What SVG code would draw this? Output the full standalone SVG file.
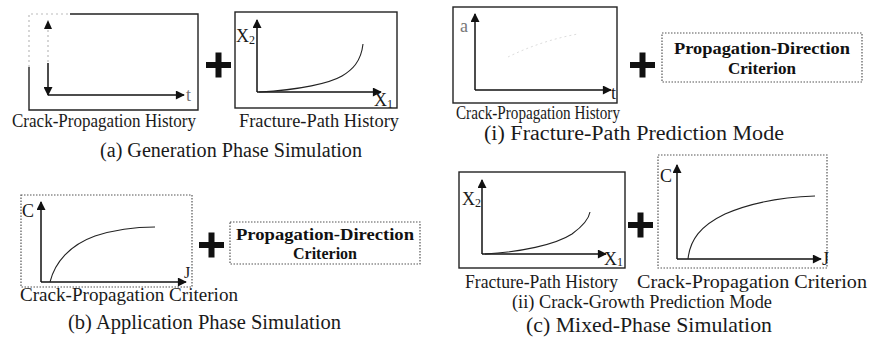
<svg xmlns="http://www.w3.org/2000/svg" width="870" height="345" viewBox="0 0 870 345">
<defs>
<marker id="ah" viewBox="0 0 10 10" refX="9" refY="5" markerWidth="12" markerHeight="9" markerUnits="userSpaceOnUse" orient="auto">
<path d="M0,0 L10,5 L0,10 Z" fill="#111"/>
</marker>
<style>
.box{fill:none;stroke:#222;stroke-width:1.4}
.dbox{fill:none;stroke:#555;stroke-width:1.2;stroke-dasharray:1.5 1.5}
.faint{fill:none;stroke:#bbb;stroke-width:1.2;stroke-dasharray:2 3}
.axis{fill:none;stroke:#111;stroke-width:1.5;marker-end:url(#ah)}
.curve{fill:none;stroke:#222;stroke-width:1.1}
.plus{fill:#111}
text{font-family:"Liberation Serif","Times New Roman",serif;fill:#1a1a1a}
.sub{font-size:18.5px}
.cap{font-size:20.5px}
.lab{font-size:18px}
.crit{font-size:17px;font-weight:bold;text-anchor:middle;fill:#111}
</style>
</defs>

<!-- (a) Generation Phase Simulation -->
<g id="a-crack-history">
<path class="box" d="M70,14 H198 V110 H29 V67"/>
<path class="faint" d="M29,67 V14 H70"/>
<path class="faint" d="M48,30 V63"/>
<path class="axis" d="M48,63 V95"/>
<path d="M48,20 L44,29 L52,29 Z" fill="#111"/>
<path class="axis" d="M48,95 H184"/>
<text x="186" y="101" class="lab" style="fill:#777">t</text>
<text x="12" y="127" class="sub" textLength="184" lengthAdjust="spacingAndGlyphs">Crack-Propagation History</text>
</g>
<g id="a-plus"><rect class="plus" x="206" y="62" width="25" height="6"/><rect class="plus" x="215.5" y="52.5" width="6" height="25"/></g>
<g id="a-fracture-history">
<rect class="box" x="235" y="12" width="162" height="96"/>
<path class="axis" d="M257,92 V20"/>
<path class="axis" d="M257,92 H381"/>
<path class="curve" d="M259,92 C300,90 330,83 342,76 C352,70 361,62 363,44"/>
<text x="236" y="42" class="lab">X<tspan font-size="12" dy="2">2</tspan></text>
<text x="374" y="106" class="lab">X<tspan font-size="12" dy="2">1</tspan></text>
<text x="239" y="127" class="sub" textLength="160" lengthAdjust="spacingAndGlyphs">Fracture-Path History</text>
</g>
<text id="a-caption" x="100" y="157" class="cap" textLength="262" lengthAdjust="spacingAndGlyphs">(a) Generation Phase Simulation</text>

<!-- (i) Fracture-Path Prediction Mode -->
<g id="i-crack-history">
<rect class="box" x="453" y="7" width="164" height="96"/>
<path class="axis" d="M475,90 V14"/>
<path class="axis" d="M475,90 H611"/>
<path d="M508,57 C530,46 555,38 578,34" fill="none" stroke="#ddd" stroke-width="1" stroke-dasharray="2 3"/>
<text x="460" y="32" class="lab" style="fill:#777">a</text>
<text x="611" y="99" class="lab">t</text>
<text x="456" y="119" class="sub" textLength="164" lengthAdjust="spacingAndGlyphs">Crack-Propagation History</text>
</g>
<g id="i-plus"><rect class="plus" x="630" y="62" width="25" height="6"/><rect class="plus" x="639.5" y="52.5" width="6" height="25"/></g>
<g id="i-direction-criterion">
<rect class="dbox" x="662" y="33" width="200" height="49"/>
<text x="762" y="54" class="crit" textLength="176" lengthAdjust="spacingAndGlyphs">Propagation-Direction</text>
<text x="762" y="74" class="crit">Criterion</text>
</g>
<text id="i-caption" x="484" y="140" class="cap" textLength="300" lengthAdjust="spacingAndGlyphs">(i) Fracture-Path Prediction Mode</text>

<!-- (b) Application Phase Simulation -->
<g id="b-crack-criterion">
<rect class="dbox" x="21" y="195" width="171" height="92"/>
<path class="axis" d="M41,282 V202"/>
<path class="axis" d="M41,282 H186"/>
<path class="curve" d="M50,282 C55,262 70,245 95,236 C120,228 140,227 155,227"/>
<text x="22" y="217" class="lab">C</text>
<text x="184" y="278" class="lab" style="font-size:16px">J</text>
<text x="20" y="301" class="sub" textLength="218" lengthAdjust="spacingAndGlyphs">Crack-Propagation Criterion</text>
</g>
<g id="b-plus"><rect class="plus" x="199" y="242" width="25" height="6"/><rect class="plus" x="208.5" y="232.5" width="6" height="25"/></g>
<g id="b-direction-criterion">
<rect class="dbox" x="230" y="222" width="190" height="42"/>
<text x="325" y="240" class="crit" style="font-size:16px" textLength="178" lengthAdjust="spacingAndGlyphs">Propagation-Direction</text>
<text x="325" y="259" class="crit" style="font-size:16px">Criterion</text>
</g>
<text id="b-caption" x="68" y="329" class="cap" textLength="273" lengthAdjust="spacingAndGlyphs">(b) Application Phase Simulation</text>

<!-- (ii) Crack-Growth Prediction Mode / (c) Mixed-Phase Simulation -->
<g id="ii-fracture-history">
<rect class="box" x="459" y="172" width="166" height="96"/>
<path class="axis" d="M482,254 V180"/>
<path class="axis" d="M482,254 H606"/>
<path class="curve" d="M485,254 C520,252 555,245 572,234 C583,226 589,218 590,212"/>
<text x="462" y="205" class="lab">X<tspan font-size="12" dy="2">2</tspan></text>
<text x="604" y="265" class="lab">X<tspan font-size="12" dy="1">1</tspan></text>
<text x="465" y="288" class="sub" textLength="153" lengthAdjust="spacingAndGlyphs">Fracture-Path History</text>
</g>
<g id="ii-plus"><rect class="plus" x="628" y="222" width="25" height="6"/><rect class="plus" x="637.5" y="212.5" width="6" height="25"/></g>
<g id="ii-crack-criterion">
<rect class="dbox" x="658" y="155" width="169" height="113"/>
<path class="axis" d="M677,259 V165"/>
<path class="axis" d="M677,259 H821"/>
<path class="curve" d="M688,259 C690,240 700,226 725,214 C755,201 785,197 815,196"/>
<text x="660" y="182" class="lab">C</text>
<text x="822" y="265" class="lab">J</text>
<text x="637" y="288" class="sub" textLength="230" lengthAdjust="spacingAndGlyphs">Crack-Propagation Criterion</text>
</g>
<text id="ii-caption" x="512" y="308" class="cap" style="font-size:19.5px" textLength="260" lengthAdjust="spacingAndGlyphs">(ii) Crack-Growth Prediction Mode</text>
<text id="c-caption" x="526" y="332" class="cap" style="font-size:21px" textLength="246" lengthAdjust="spacingAndGlyphs">(c) Mixed-Phase Simulation</text>
</svg>
